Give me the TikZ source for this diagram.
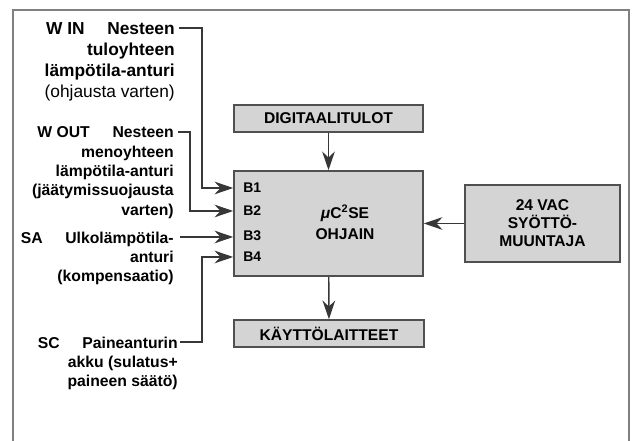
\documentclass[tikz,border=0pt]{standalone}
\usepackage{fontspec}
\setmainfont{Liberation Sans}
\usepackage{tikz}
\usetikzlibrary{positioning,arrows.meta,calc}
\definecolor{kehys}{RGB}{128,128,128}
\definecolor{laatikko}{RGB}{212,212,212}
\definecolor{reuna}{RGB}{80,80,80}
\definecolor{viiva}{RGB}{55,55,55}
\newcommand{\tunnus}[1]{#1\hspace{17pt}}

\begin{document}
\begin{tikzpicture}[x=0.75pt,y=-0.75pt,
  lohko/.style={draw=reuna,fill=laatikko,line width=1.2pt,inner sep=0pt,align=center,
    font=\bfseries\fontsize{11.7}{13.5}\selectfont},
  nuoli/.style={draw=viiva,line width=1.1pt,-{Stealth[length=14pt,width=9.5pt,inset=4.5pt]}},
  selite/.style={anchor=north east,inner sep=0pt,align=right,
    font=\bfseries\fontsize{11.8}{14.5}\selectfont},
  tulo/.style={anchor=west,inner sep=0pt,font=\bfseries\fontsize{10.5}{12}\selectfont}]
\useasboundingbox (0,0) rectangle (633,441);
\clip (0,0) rectangle (633,441);

% Frame
\draw[kehys,line width=1.5pt] (13,10) rectangle (629,480);

% Blocks
\node[lohko,minimum width=141.75pt,minimum height=20.25pt] (digi) at (328.5,118.5) {DIGITAALITULOT};
\node[lohko,minimum width=141.75pt,minimum height=78.75pt] (ohjain) at (328.5,223.5) {};
\node[lohko,minimum width=142.5pt,minimum height=20.25pt] (kayt) at (329,333.5) {KÄYTTÖLAITTEET};
\node[lohko,minimum width=116.25pt,minimum height=57.75pt] (vac) at (542.5,223.5) {24 VAC\\SYÖTTÖ-\\MUUNTAJA};

% Controller text and inputs
\node[font=\bfseries\fontsize{11.7}{15.75}\selectfont,align=center] (nimi) at (345,222)
  {{\itshape μ}C\textsuperscript{2}SE\\OHJAIN};
\node[tulo] (b1) at (243,188) {B1};
\node[tulo] (b2) at (243,211) {B2};
\node[tulo] (b3) at (243,236) {B3};
\node[tulo] (b4) at (243,257) {B4};

% Sensor labels
\node[selite,font=\bfseries\fontsize{13}{15.75}\selectfont] (win) at (175,22)
  {\tunnus{W IN}Nesteen\\tuloyhteen\\lämpötila-anturi\\{\mdseries(ohjausta varten)}};
\node[selite] (wout) at (174,126.5)
  {\tunnus{W OUT}Nesteen\\menoyhteen\\lämpötila-anturi\\(jäätymissuojausta\\varten)};
\node[selite] (sa) at (174,231.5)
  {\tunnus{SA}Ulkolämpötila-\\anturi\\(kompensaatio)};
\node[selite] (sc) at (178,336.5)
  {\tunnus{SC}Paineanturin\\akku (sulatus+\\paineen säätö)};

\coordinate (winpaa) at (179,28);
\coordinate (woutpaa) at (178,132);
\coordinate (sapaa) at (180,237);
\coordinate (scpaa) at (180,342);

% Connectors
\draw[nuoli] (winpaa) -- ++(23,0) |- (b1 -| ohjain.west);
\draw[nuoli] (woutpaa) -- ++(12,0) |- (b2 -| ohjain.west);
\draw[nuoli] (sapaa) -- (sapaa -| ohjain.west);
\draw[nuoli] (scpaa) -- ++(22,0) |- (b4 -| ohjain.west);
\draw[nuoli] (digi) -- (ohjain);
\draw[nuoli] (ohjain) -- (kayt);
\draw[nuoli] (vac) -- (ohjain);
\end{tikzpicture}
\end{document}
